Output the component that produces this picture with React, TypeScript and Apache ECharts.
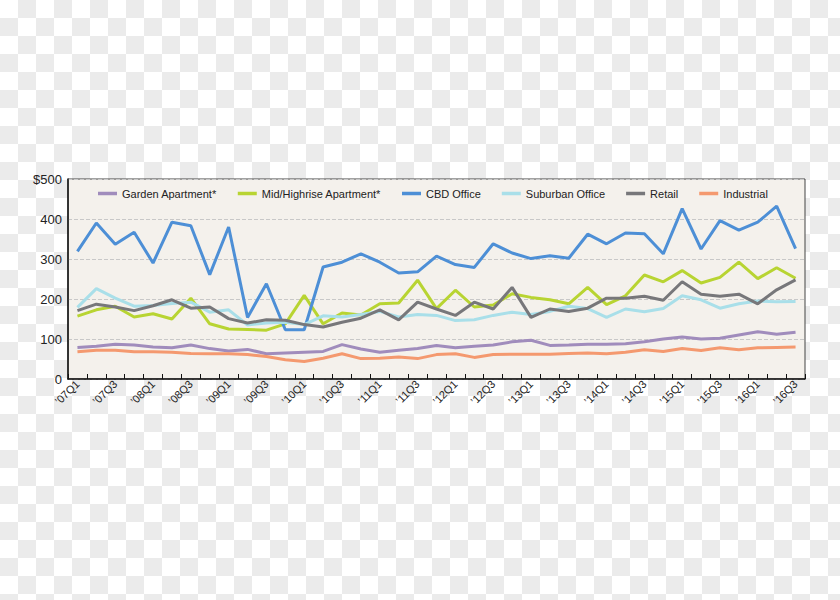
import React, { useEffect, useRef } from "react";
import * as echarts from "echarts";

const years = ["07", "08", "09", "10", "11", "12", "13", "14", "15", "16"];
const categories: string[] = [];
years.forEach((y) => {
  for (let q = 1; q <= 4; q++) {
    if (y === "16" && q === 4) continue;
    categories.push("\u2019" + y + "Q" + q);
  }
});

const seriesNames = [
  "Garden Apartment*",
  "Mid/Highrise Apartment*",
  "CBD Office",
  "Suburban Office",
  "Retail",
  "Industrial",
];
const seriesColors = ["#a08cbc", "#b8d432", "#4d8fd6", "#a9dfe9", "#77777a", "#f4996f"];

const garden = [79, 82, 87, 85, 80, 78, 85, 76, 70, 74, 63, 65, 67, 69, 86, 75, 67, 72, 76, 84, 78, 82, 85, 93, 97, 84, 85, 87, 87, 88, 93, 100, 105, 100, 102, 110, 118, 112, 117];
const midHighrise = [157, 173, 182, 155, 163, 150, 202, 138, 125, 124, 122, 138, 209, 138, 165, 160, 188, 190, 247, 176, 222, 180, 185, 213, 204, 198, 188, 229, 186, 208, 260, 243, 271, 240, 254, 292, 251, 278, 252];
const cbdOffice = [319, 390, 337, 367, 290, 392, 383, 261, 380, 154, 238, 123, 123, 280, 292, 313, 292, 265, 268, 307, 286, 279, 338, 315, 301, 308, 302, 362, 338, 365, 363, 313, 426, 325, 396, 372, 392, 432, 326];
const suburbanOffice = [179, 226, 202, 182, 184, 189, 192, 167, 173, 135, 140, 142, 136, 158, 155, 161, 169, 155, 161, 159, 146, 148, 159, 167, 161, 169, 182, 176, 154, 175, 168, 176, 208, 198, 177, 188, 195, 193, 194];
const retail = [171, 187, 180, 171, 183, 198, 177, 180, 151, 140, 148, 147, 136, 130, 142, 152, 173, 148, 192, 175, 159, 192, 175, 229, 154, 175, 169, 177, 202, 202, 207, 197, 243, 212, 207, 212, 188, 223, 248];
const industrial = [68, 72, 72, 68, 68, 67, 64, 63, 63, 61, 56, 48, 44, 52, 63, 51, 52, 55, 51, 61, 63, 54, 61, 62, 62, 62, 64, 65, 63, 67, 73, 69, 76, 71, 78, 73, 78, 79, 80];

const seriesData = [garden, midHighrise, cbdOffice, suburbanOffice, retail, industrial];

const FONT = "'Liberation Sans', Arial, sans-serif";

export default function App() {
  const ref = useRef<HTMLDivElement>(null);
  useEffect(() => {
    if (!ref.current) return;
    const chart = echarts.init(ref.current, undefined, { renderer: "svg" });
    chart.setOption({
      animation: false,
      backgroundColor: "transparent",
      grid: {
        left: 68,
        right: 35,
        top: 179,
        bottom: 221,
        show: true,
        backgroundColor: "#f4f1ec",
        borderColor: "#444",
        borderWidth: 1,
      },
      legend: {
        top: 183,
        left: 93,
        icon: "rect",
        itemWidth: 19,
        itemHeight: 3.5,
        itemGap: 21,
        data: seriesNames,
        textStyle: { fontFamily: FONT, fontSize: 11, color: "#222" },
      },
      xAxis: {
        type: "category",
        data: categories,
        boundaryGap: true,
        axisLine: { show: true, lineStyle: { color: "#111", width: 1.5 } },
        axisTick: { show: true, inside: true, length: 5, interval: 0, lineStyle: { color: "#111" } },
        axisLabel: {
          interval: 1,
          rotate: 45,
          margin: 3,
          fontFamily: FONT,
          fontSize: 11,
          color: "#222",
        },
        splitLine: { show: false },
      },
      yAxis: {
        type: "value",
        min: 0,
        max: 500,
        interval: 100,
        axisLine: { show: true, lineStyle: { color: "#111", width: 1.5 } },
        axisTick: { show: false },
        axisLabel: {
          margin: 6,
          fontFamily: FONT,
          fontSize: 13,
          color: "#222",
          formatter: (v: number) => (v === 500 ? "$500" : String(v)),
        },
        splitLine: { show: true, lineStyle: { color: "#c8c8c8", type: "dashed", width: 1 } },
      },
      series: seriesNames.map((name, i) => ({
        name,
        type: "line",
        data: seriesData[i],
        symbol: "none",
        color: seriesColors[i],
        lineStyle: { width: 3, color: seriesColors[i] },
      })),
    });
    return () => chart.dispose();
  }, []);
  return (
    <div
      style={{
        position: "fixed",
        left: 0,
        top: 0,
        width: 840,
        height: 600,
        backgroundColor: "#fff",
        backgroundImage: "repeating-conic-gradient(#ebebeb 0 25%, #ffffff 0 50%)",
        backgroundSize: "36px 36px",
      }}
    >
      <div ref={ref} style={{ width: 840, height: 600 }} />
    </div>
  );
}
